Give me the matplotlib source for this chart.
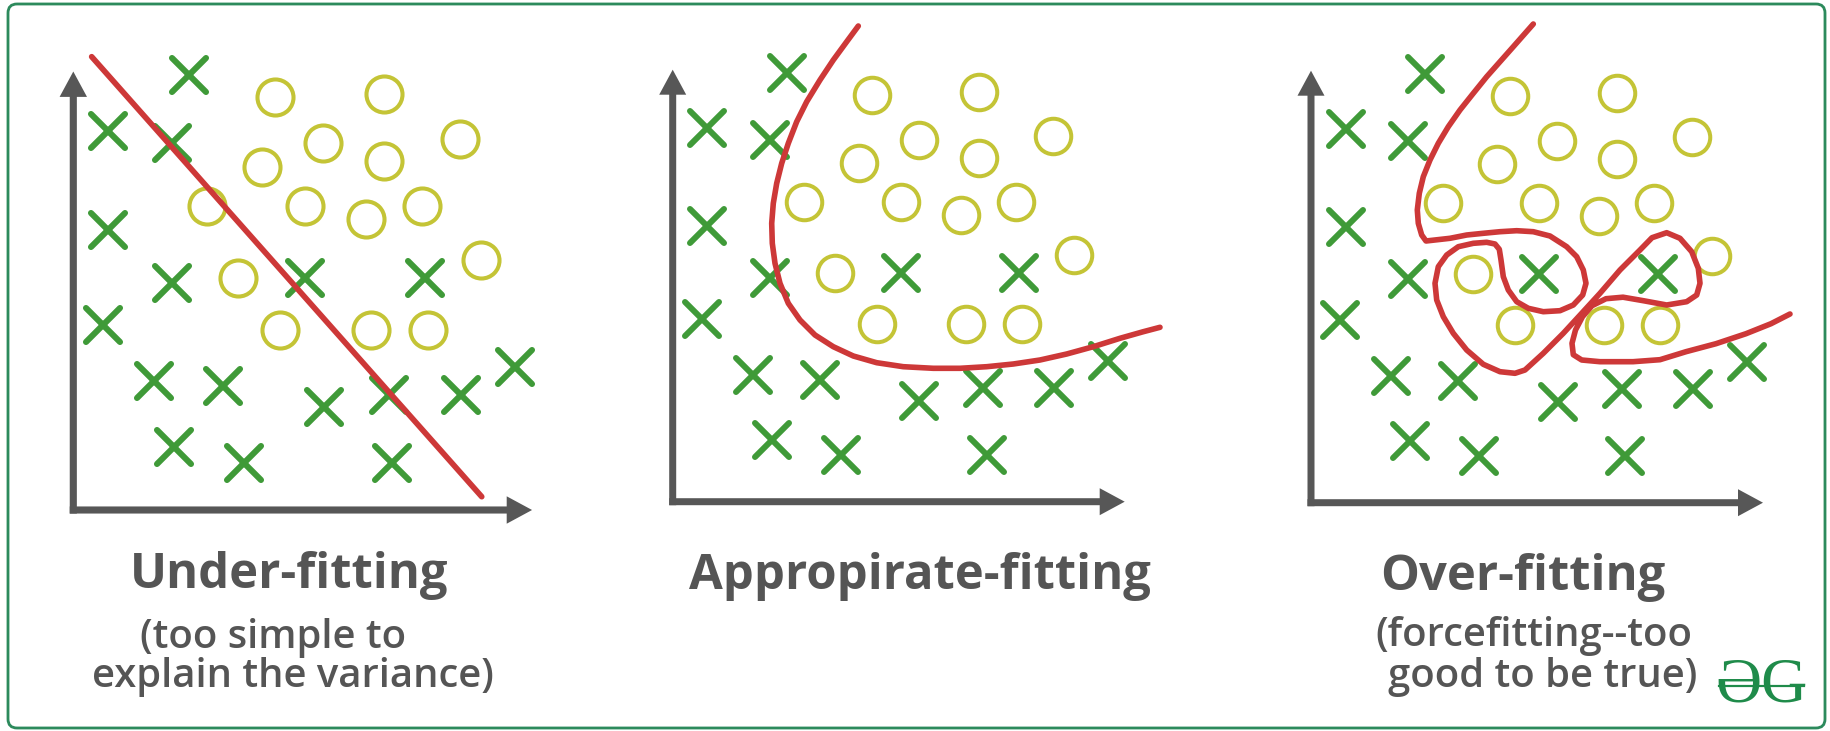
import matplotlib
matplotlib.use("Agg")
import matplotlib.pyplot as plt
from matplotlib.patches import FancyBboxPatch
from matplotlib.markers import MarkerStyle

W, H, DPI = 1831, 731, 100

# ---------------- data (panel-relative units, origin at the axes corner) -------------
cross_x = [114.0, 34.6, 97.3, 34.6, 97.3, 29.0, 80.0, 147.3, 99.0, 168.3,
           228.0, 346.6, 246.6, 310.6, 314.0, 381.6, 435.6]
cross_y = [428.4, 373.4, 361.7, 275.7, 223.4, 182.4, 126.7, 121.7, 61.7, 46.7,
           228.4, 228.4, 101.0, 113.4, 46.7, 113.4, 141.0]

circle_x = [199.0, 306.3, 246.3, 380.6, 186.3, 306.3, 131.6, 228.3, 288.0, 343.3,
            162.3, 401.3, 204.0, 293.0, 349.0]
circle_y = [406.7, 410.0, 361.7, 365.7, 338.4, 343.4, 300.0, 300.0, 286.7, 300.0,
            228.4, 246.7, 177.7, 177.7, 177.7]

# decision boundaries
under_x = [18.1, 402.4]
under_y = [446.6, 13.1]

approp_x = [185.6, 174.0, 160.6, 147.3, 134.0, 124.0, 115.6, 109.0, 104.0, 100.6,
            99.0, 99.6, 102.3, 107.3, 115.6, 127.3, 142.3, 160.6, 180.6, 204.0,
            230.6, 260.6, 287.3, 314.0, 340.6, 367.3, 394.0, 420.6, 447.3, 470.6, 487.3]
approp_y = [475.7, 460.0, 441.7, 421.7, 400.0, 380.0, 358.4, 338.4, 318.4, 298.4,
            278.4, 258.4, 238.4, 218.4, 198.4, 181.7, 166.7, 155.0, 145.7, 139.0,
            135.0, 133.4, 133.4, 135.0, 137.7, 141.7, 147.7, 155.0, 163.4, 170.0, 174.4]

over_x = [222.3, 202.3, 189.0, 175.7, 162.3, 149.0, 137.3, 127.3, 119.0, 112.3,
          108.3, 106.3, 107.3, 110.7, 115.0,
          139.0, 155.7, 172.3, 189.0, 205.7, 222.3, 239.0, 255.7, 265.7, 272.3,
          275.0, 271.7, 262.3, 249.0, 232.3, 217.3, 205.7, 197.3, 192.3, 190.0,
          188.3, 184.0, 175.7, 162.3, 147.3, 135.7, 127.3, 124.0, 125.7, 132.3,
          142.3, 155.7, 172.3, 189.0, 204.0, 214.0, 232.3, 252.3, 270.7, 289.0,
          309.0, 329.0, 341.0, 355.7, 369.0, 380.7, 387.3, 389.0, 385.7, 375.7,
          355.7, 332.3, 312.0, 295.0, 281.0, 271.5, 264.5, 261.0, 262.3, 270.7,
          289.0, 322.0, 349.0, 375.0, 405.0, 435.0, 460.0, 479.0]
over_y = [478.7, 456.0, 441.0, 426.0, 409.4, 392.7, 376.0, 359.4, 342.7, 326.0,
          309.4, 292.7, 279.4, 267.7, 261.7,
          264.4, 267.7, 269.4, 271.0, 272.0, 271.0, 266.7, 256.0, 246.0, 232.7,
          219.4, 207.7, 197.7, 192.0, 191.0, 194.4, 201.0, 212.7, 226.0, 242.7,
          253.4, 258.7, 260.4, 259.4, 256.0, 247.7, 236.0, 219.4, 202.7, 186.0,
          169.4, 152.7, 138.4, 131.0, 129.4, 132.7, 149.4, 169.4, 189.4, 209.4,
          232.7, 252.7, 265.0, 270.0, 264.4, 251.0, 234.4, 219.4, 207.7, 201.0,
          197.7, 202.0, 205.5, 204.0, 197.0, 186.0, 172.7, 159.4, 148.0, 142.7,
          141.0, 141.0, 143.0, 151.0, 159.0, 169.0, 179.0, 188.7]

titles = ["Under-fitting", "Appropirate-fitting", "Over-fitting"]
subtitles = [["(too simple to", "explain the variance)"],
             [],
             ["(forcefitting--too", "good to be true)"]]

# ---------------- styles -------------
GREEN = "#3f9a38"
OLIVE = "#c4c436"
RED = "#cd3838"
AXIS = "#575757"
TEXT = "#555555"
FRAME = "#2c8a5c"
GFG = "#1f8b4a"
PX = 72.0 / DPI  # points per pixel

fig = plt.figure(figsize=(W / DPI, H / DPI), dpi=DPI)
fig.patch.set_facecolor("white")

# background overlay in pixel coordinates (frame + logo line)
bg = fig.add_axes([0, 0, 1, 1])
bg.set_xlim(0, W)
bg.set_ylim(H, 0)
bg.axis("off")
bg.add_patch(FancyBboxPatch((8, 4), 1817, 724,
                            boxstyle="round,pad=0,rounding_size=9",
                            fc="none", ec=FRAME, lw=2.8 * PX))

# panel layout: origin pixel (x, y from top) and scale
panels = [(73.3, 510.0, 1.015), (672.7, 501.7, 1.0), (1311.0, 502.7, 1.0)]
curves = [(under_x, under_y), (approp_x, approp_y), (over_x, over_y)]
XMIN, XMAX, YMIN, YMAX = -40, 520, -40, 500
XTIP, YTIP = 452, 432

xmark = MarkerStyle("x", capstyle="round")

for (ox, oy, s), (cx, cy) in zip(panels, curves):
    ax = fig.add_axes([(ox + XMIN * s) / W, (H - oy + YMIN * s) / H,
                       (XMAX - XMIN) * s / W, (YMAX - YMIN) * s / H])
    ax.set_xlim(XMIN, XMAX)
    ax.set_ylim(YMIN, YMAX)
    ax.axis("off")
    ax.patch.set_alpha(0)

    # axes arrows
    ax.arrow(-3.5, 0, XTIP + 3.5, 0, width=7, head_width=27, head_length=25,
             length_includes_head=True, fc=AXIS, ec="none", zorder=1)
    ax.arrow(0, -3.5, 0, YTIP + 3.5, width=7, head_width=27, head_length=25,
             length_includes_head=True, fc=AXIS, ec="none", zorder=1)

    ax.plot(cross_x, cross_y, ls="none", marker=xmark, ms=34 * PX * s,
            mew=6.0 * PX * s, color=GREEN, zorder=2, clip_on=False)
    ax.plot(circle_x, circle_y, ls="none", marker="o", ms=35.5 * PX * s,
            mew=4.0 * PX * s, mfc="none", mec=OLIVE, zorder=2, clip_on=False)
    ax.plot(cx, cy, color=RED, lw=5.6 * PX * s, solid_capstyle="round",
            solid_joinstyle="round", zorder=3, clip_on=False)

# ---------------- text -------------
title_pos = [(289, 588.5), (920, 589), (1523, 589.5)]
sub_pos = [[(273, 648), (293, 686.7)], [], [(1534, 645.5), (1543, 686.7)]]

for t, (x, y) in zip(titles, title_pos):
    fig.text(x / W, 1 - y / H, t, ha="center", va="baseline", fontsize=35.3,
             family="Open Sans", fontweight="bold", color=TEXT)

for lines, poss in zip(subtitles, sub_pos):
    for t, (x, y) in zip(lines, poss):
        fig.text(x / W, 1 - y / H, t, ha="center", va="baseline", fontsize=28.8,
                 family="Open Sans", fontweight="semibold", color=TEXT)

# GfG logo
fig.text(1761.5 / W, 1 - 702.0 / H, "\u018FG", ha="center", va="baseline",
         fontsize=46, family=["Liberation Serif", "DejaVu Serif"], color=GFG)
bg.plot([1719, 1804], [686, 686], color=GFG, lw=2.2 * PX)

fig.savefig("out.png", dpi=DPI, facecolor="white")
